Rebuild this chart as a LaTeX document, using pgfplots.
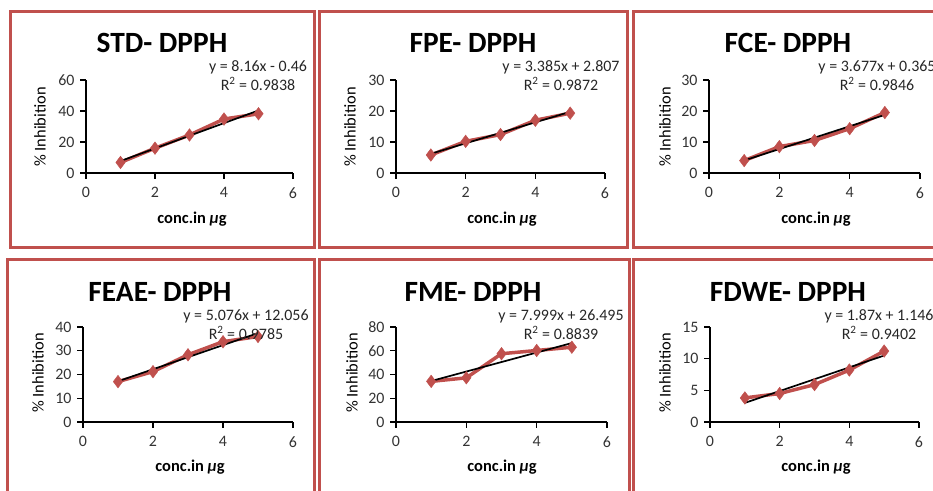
\documentclass[border=0pt]{standalone}
\usepackage{pgfplots}
\pgfplotsset{compat=1.18}
\usepackage{fontspec}
\setmainfont{Carlito}

\definecolor{exRed}{HTML}{C0504D}

\pgfplotsset{
  panel/.style={
    anchor=south west, scale only axis, height=93bp,
    xmin=0, xmax=6, xtick={0,2,4,6}, ymin=0,
    axis x line=bottom, axis y line=left,
    axis line style={-, line width=1.5bp},
    tick align=outside, major tick length=6bp,
    tick style={line width=1.3bp, black},
    ticklabel style={font=\fontsize{16}{17}\selectfont, text=black!80},
    xticklabel style={yshift=-5bp},
    yticklabel style={xshift=-2bp},
    /pgf/number format/assume math mode=true,
    clip=false,
  },
  meas/.style={exRed, line width=3.5bp, mark=diamond*, mark size=6.3bp,
    mark options={fill=exRed, draw=exRed, line width=0.4bp}},
  fit/.style={black, line width=1.7bp},
}
\tikzset{
  ttl/.style={font=\fontsize{29.5}{30}\selectfont\bfseries},
  eqn/.style={font=\fontsize{16}{19}\selectfont, align=center, text=black!85},
  ylab/.style={font=\fontsize{16.5}{17}\selectfont, rotate=90},
  xlab/.style={font=\fontsize{16.5}{17}\selectfont\bfseries},
  box/.style={exRed, line width=3bp},
}
\newcommand{\mug}{conc.in {\itshape μ}g}

\begin{document}
\begin{tikzpicture}[x=1bp, y=1bp]
\useasboundingbox (0,0) rectangle (933,491);
\clip (0,0) rectangle (933,491);

% panel frames
\draw[box] (10,479.5) rectangle (314,243.5);
\draw[box] (319,479.5) rectangle (627,243.5);
\draw[box] (633,479.5) rectangle (945,243.5);
\draw[box] (7,231.5) rectangle (314,-14);
\draw[box] (319,231.5) rectangle (629,-14);
\draw[box] (633,231.5) rectangle (945,-14);

% STD
\begin{axis}[panel, at={(86bp,318bp)}, width=207bp, ymax=60, ytick={0,20,40,60}]
  \addplot[meas] coordinates {(1,6.8) (2,16.0) (3,24.5) (4,34.8) (5,38.2)};
  \addplot[fit] coordinates {(1,7.70) (5,40.34)};
\end{axis}
\node[ttl] at (162,448) {STD- DPPH};
\node[eqn] at (258,415) {y = 8.16x - 0.46\\R\textsuperscript{2} = 0.9838};
\node[ylab] at (40,364) {\% Inhibition};
\node[xlab] at (192,272) {\mug};

% FPE
\begin{axis}[panel, at={(396bp,318bp)}, width=209bp, ymax=30, ytick={0,10,20,30}]
  \addplot[meas] coordinates {(1,5.8) (2,10.2) (3,12.4) (4,17.0) (5,19.3)};
  \addplot[fit] coordinates {(1,6.192) (5,19.732)};
\end{axis}
\node[ttl] at (473,448) {FPE- DPPH};
\node[eqn] at (561,415) {y = 3.385x + 2.807\\R\textsuperscript{2} = 0.9872};
\node[ylab] at (350,364) {\% Inhibition};
\node[xlab] at (502,272) {\mug};

% FCE
\begin{axis}[panel, at={(709bp,318bp)}, width=211bp, ymax=30, ytick={0,10,20,30}]
  \addplot[meas] coordinates {(1,4.0) (2,8.5) (3,10.5) (4,14.3) (5,19.5)};
  \addplot[fit] coordinates {(1,4.042) (5,18.75)};
\end{axis}
\node[ttl] at (788,448) {FCE- DPPH};
\node[eqn] at (877,415) {y = 3.677x + 0.365\\R\textsuperscript{2} = 0.9846};
\node[ylab] at (665,364) {\% Inhibition};
\node[xlab] at (816,272) {\mug};

% FEAE
\begin{axis}[panel, at={(83bp,69bp)}, width=210bp, height=95bp, ymax=40, ytick={0,10,20,30,40}]
  \addplot[meas] coordinates {(1,17.0) (2,21.2) (3,28.3) (4,33.8) (5,36.0)};
  \addplot[fit] coordinates {(1,17.132) (5,37.436)};
\end{axis}
\node[ttl] at (160,199) {FEAE- DPPH};
\node[eqn] at (246,166.5) {y = 5.076x + 12.056\\R\textsuperscript{2} = 0.9785};
\node[ylab] at (38,118) {\% Inhibition};
\node[xlab] at (190,24) {\mug};

% FME
\begin{axis}[panel, at={(396bp,69bp)}, width=211bp, height=95bp, ymax=80, ytick={0,20,40,60,80}]
  \addplot[meas] coordinates {(1,34.2) (2,37.2) (3,57.5) (4,60.2) (5,63.0)};
  \addplot[fit] coordinates {(1,34.494) (5,66.49)};
\end{axis}
\node[ttl] at (473,199) {FME- DPPH};
\node[eqn] at (561,166.5) {y = 7.999x + 26.495\\R\textsuperscript{2} = 0.8839};
\node[ylab] at (352,118) {\% Inhibition};
\node[xlab] at (502,24) {\mug};

% FDWE
\begin{axis}[panel, at={(710bp,69bp)}, width=209bp, height=95bp, ymax=15, ytick={0,5,10,15}]
  \addplot[meas] coordinates {(1,3.8) (2,4.5) (3,5.9) (4,8.2) (5,11.2)};
  \addplot[fit] coordinates {(1,3.016) (5,10.496)};
\end{axis}
\node[ttl] at (788,199) {FDWE- DPPH};
\node[eqn] at (879,166.5) {y = 1.87x + 1.146\\R\textsuperscript{2} = 0.9402};
\node[ylab] at (665,118) {\% Inhibition};
\node[xlab] at (816,24) {\mug};
\end{tikzpicture}
\end{document}
